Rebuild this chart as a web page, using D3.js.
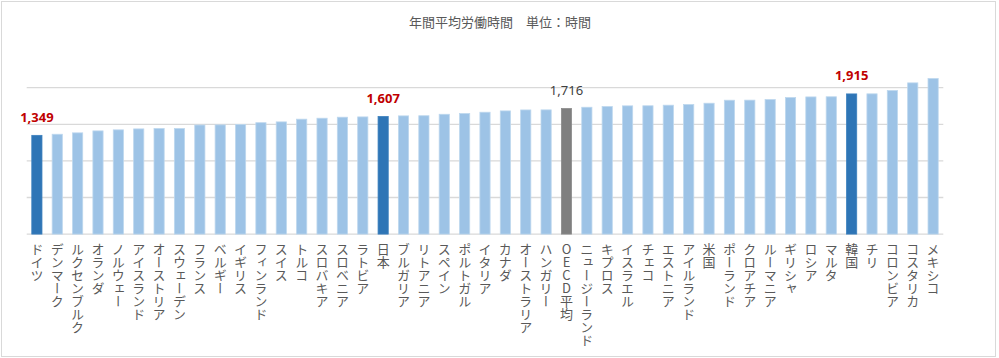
<!DOCTYPE html>
<html><head><meta charset="utf-8">
<script src="https://cdn.jsdelivr.net/npm/d3@7"></script>
<style>
html,body{margin:0;padding:0;background:#fff;}
svg{display:block;}
.cat{font-family:"Noto Sans CJK JP","Noto Sans",sans-serif;font-size:13px;fill:#595959;writing-mode:vertical-rl;text-orientation:upright;}
</style></head><body>
<svg id="chart" width="999" height="358"></svg>
<script>
const categories = ["ドイツ","デンマーク","ルクセンブルク","オランダ","ノルウェー","アイスランド","オーストリア","スウェーデン","フランス","ベルギー","イギリス","フィンランド","スイス","トルコ","スロバキア","スロベニア","ラトビア","日本","ブルガリア","リトアニア","スペイン","ポルトガル","イタリア","カナダ","オーストラリア","ハンガリー","OECD平均","ニュージーランド","キプロス","イスラエル","チェコ","エストニア","アイルランド","米国","ポーランド","クロアチア","ルーマニア","ギリシャ","ロシア","マルタ","韓国","チリ","コロンビア","コスタリカ","メキシコ"];
const hours = [1349,1364,1383,1410,1424,1437,1442,1442,1490,1492,1497,1522,1533,1570,1583,1597,1601,1607,1615,1617,1637,1647,1665,1683,1696,1697,1716,1733,1742,1752,1753,1761,1770,1788,1829,1830,1838,1865,1874,1876,1915,1916,1961,2066,2125];
const highlighted = ["ドイツ","日本","韓国"];
const averageCategory = "OECD平均";
const yTicks = [0,500,1000,1500,2000];
const title = "年間平均労働時間　単位：時間";

const svg = d3.select("#chart");
const data = categories.map((c,i)=>({c, v:hours[i]}));

// border
svg.append("rect").attr("x",1.5).attr("y",1.5).attr("width",994).attr("height",355)
  .attr("fill","#fff").attr("stroke","#D9D9D9").attr("stroke-width",1);

const x = d3.scaleBand().domain(categories).range([26.7,943.3]).paddingInner(0.5).paddingOuter(0.25);
const y = d3.scaleLinear().domain([0,2000]).range([234.1,87.7]);

// gridlines
svg.append("g").selectAll("line").data(yTicks).join("line")
  .attr("x1",26.7).attr("x2",943.3)
  .attr("y1",d=>y(d)).attr("y2",d=>y(d))
  .attr("stroke","#D9D9D9").attr("stroke-width",1.3);

// bars
svg.append("g").selectAll("rect").data(data).join("rect")
  .attr("x",d=>x(d.c)).attr("width",x.bandwidth())
  .attr("y",d=>y(d.v)).attr("height",d=>y(0)-y(d.v))
  .attr("fill",d=> d.c===averageCategory ? "#7F7F7F" : (highlighted.includes(d.c) ? "#2E75B6" : "#9DC3E6"))
  .attr("stroke",d=> d.c===averageCategory ? "#8C8C8C" : (highlighted.includes(d.c) ? "#3C80BE" : "#BDD7EE"))
  .attr("stroke-width",0.8);

// value labels
const fmt = d3.format(",");
svg.append("g").selectAll("text").data(data.filter(d=>highlighted.includes(d.c)||d.c===averageCategory)).join("text")
  .attr("x",d=>x(d.c)+x.bandwidth()/2)
  .attr("y",d=>y(d.v)-13.5)
  .attr("text-anchor","middle")
  .attr("font-family","'Noto Sans','Liberation Sans',sans-serif")
  .attr("font-size",13)
  .attr("font-weight",d=>d.c===averageCategory?400:700)
  .attr("fill",d=>d.c===averageCategory?"#404040":"#C00000")
  .text(d=>fmt(d.v));

// category labels (vertical)
svg.append("g").selectAll("text").data(categories).join("text")
  .attr("class","cat")
  .attr("x",d=>x(d)+x.bandwidth()/2)
  .attr("y",243)
  .text(d=>d);

// title
svg.append("text").attr("x",500).attr("y",27).attr("text-anchor","middle")
  .attr("font-family","'Noto Sans CJK JP',sans-serif").attr("font-size",13).attr("fill","#595959")
  .text(title);
</script>
</body></html>
